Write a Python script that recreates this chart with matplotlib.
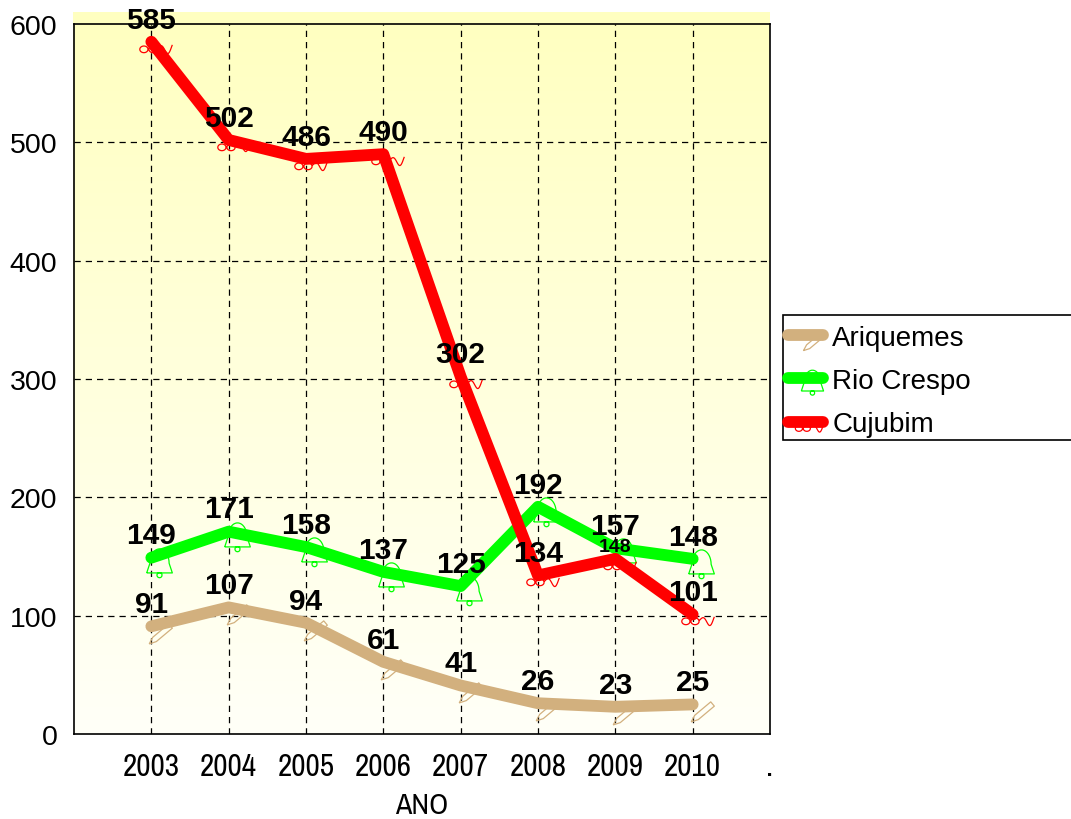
import numpy as np
import matplotlib
matplotlib.use("Agg")
import matplotlib.pyplot as plt
from matplotlib.path import Path
from matplotlib.patches import Rectangle

years = ["2003", "2004", "2005", "2006", "2007", "2008", "2009", "2010"]
ariquemes = [91, 107, 94, 61, 41, 26, 23, 25]
rio_crespo = [149, 171, 158, 137, 125, 192, 157, 148]
cujubim = [585, 502, 486, 490, 302, 134, 148, 101]
series_names = ["Ariquemes", "Rio Crespo", "Cujubim"]
y_ticks = [0, 100, 200, 300, 400, 500, 600]

SANS = ["Liberation Sans", "DejaVu Sans"]
NARROW = ["Archivo Narrow", "Liberation Sans", "DejaVu Sans"]

W, H = 1071, 820
fig = plt.figure(figsize=(W / 100, H / 100), dpi=100)
fig.patch.set_facecolor("white")


def px_box(x0, y0, x1, y1):
    """Figure-fraction rectangle from pixel edges (top-left origin)."""
    return [x0 / W, 1 - y1 / H, (x1 - x0) / W, (y1 - y0) / H]


# Yellow-to-white gradient panel behind the plot
bg = fig.add_axes(px_box(73, 13, 770, 735), zorder=0)
grad = np.linspace(0, 1, 256)[:, None]
top = np.array([255, 255, 192]) / 255
bot = np.array([255, 255, 248]) / 255
img = top[None, None, :] * (1 - grad[:, :, None]) + bot[None, None, :] * grad[:, :, None]
bg.imshow(img, aspect="auto", extent=[0, 1, 0, 1], origin="upper")
bg.set_axis_off()

ax = fig.add_axes(px_box(74, 25, 770, 735), zorder=1)
ax.set_facecolor("none")


# Small outline glyph markers
def glasses_path():
    verts, codes = [], []
    for cx in (-0.5, 0.1):
        t = np.linspace(0, 2 * np.pi, 25)
        pts = np.c_[cx + 0.27 * np.cos(t), -0.45 + 0.22 * np.sin(t)]
        verts += pts.tolist()
        codes += [Path.MOVETO] + [Path.LINETO] * (len(pts) - 1)
    s = np.linspace(0, 1, 30)
    wave = np.c_[0.37 + 1.0 * s, -0.4 + 0.3 * np.sin(s * 2.2 * np.pi) * (0.4 + s)]
    verts += wave.tolist()
    codes += [Path.MOVETO] + [Path.LINETO] * (len(wave) - 1)
    return Path(verts, codes)


def bell_path():
    t = np.linspace(np.pi, 0, 20)
    dome = np.c_[0.25 + 0.3 * np.cos(t), -0.15 + 0.45 * np.sin(t)]
    verts = [[-0.15, -0.45]] + dome.tolist() + [[0.65, -0.45], [-0.15, -0.45]]
    codes = [Path.MOVETO] + [Path.LINETO] * (len(verts) - 1)
    c = np.linspace(0, 2 * np.pi, 16)
    clap = np.c_[0.25 + 0.08 * np.cos(c), -0.52 + 0.08 * np.sin(c)]
    verts += clap.tolist()
    codes += [Path.MOVETO] + [Path.LINETO] * (len(clap) - 1)
    return Path(verts, codes)


def pencil_path():
    ang = np.deg2rad(40)
    d = np.array([np.cos(ang), np.sin(ang)])
    n = np.array([-d[1], d[0]])
    tip = np.array([-0.1, -0.75])
    w = 0.12
    a = tip + 0.3 * d
    b = tip + 1.2 * d
    body = [tip, a + w * n, b + w * n, b - w * n, a - w * n, tip]
    verts = [list(p) for p in body]
    codes = [Path.MOVETO] + [Path.LINETO] * (len(verts) - 1)
    return Path(verts, codes)


colors = ["#D2B07E", "#00FF00", "#FF0000"]
markers = [pencil_path(), bell_path(), glasses_path()]
data = [ariquemes, rio_crespo, cujubim]
x = np.arange(len(years))

for vals, col, mk, name in zip(data, colors, markers, series_names):
    ax.plot(x, vals, color=col, lw=8.5, solid_capstyle="round",
            solid_joinstyle="round", marker=mk, markersize=30,
            markerfacecolor="none", markeredgecolor=col,
            markeredgewidth=0.9, label=name, zorder=3)

# Value labels above each point
small_labels = {(2, 6)}
for si, vals in enumerate(data):
    for i, v in enumerate(vals):
        small = (si, i) in small_labels
        ax.annotate(str(v), (x[i], v),
                    xytext=(0, 9 if small else 16), textcoords="offset points",
                    ha="center", va="center",
                    fontsize=14 if small else 21.5, fontweight="bold",
                    family=SANS, zorder=5)

ax.set_xlim(-1, 8)
ax.set_ylim(0, 600)
ax.set_yticks(y_ticks)
ax.set_yticklabels([str(t) for t in y_ticks], fontsize=20.5, family=SANS)
ax.set_xticks(list(range(len(years) + 1)))
ax.set_xticklabels(years + ["."], fontsize=22.5, family=NARROW)
ax.tick_params(axis="y", length=0, pad=12)
ax.tick_params(axis="x", length=0, pad=13)

for yv in y_ticks[1:-1]:
    ax.axhline(yv, color="black", lw=0.9, ls=(0, (5, 4)), zorder=1)
for xv in x:
    ax.axvline(xv, color="black", lw=0.9, ls=(0, (5, 4)), zorder=1)

for sp in ax.spines.values():
    sp.set_color("black")
    sp.set_linewidth(1.2)

ax.set_xlabel("ANO", fontsize=21.5, labelpad=8, family=NARROW)

# Legend box
fig.add_artist(Rectangle((783 / W, 1 - 441 / H), 300 / W, 125 / H,
                         transform=fig.transFigure, facecolor="white",
                         edgecolor="black", lw=1.2, zorder=0.5))
leg = ax.legend(loc="upper left", bbox_to_anchor=(785 / W, 1 - 323 / H),
                bbox_transform=fig.transFigure, frameon=False,
                handlelength=1.25, handletextpad=0.35,
                labelspacing=0.62, borderaxespad=0, borderpad=0.1,
                prop={"family": SANS, "size": 20})
for h in leg.legend_handles:
    h.set_markersize(26)

fig.savefig("out.png", dpi=100)
